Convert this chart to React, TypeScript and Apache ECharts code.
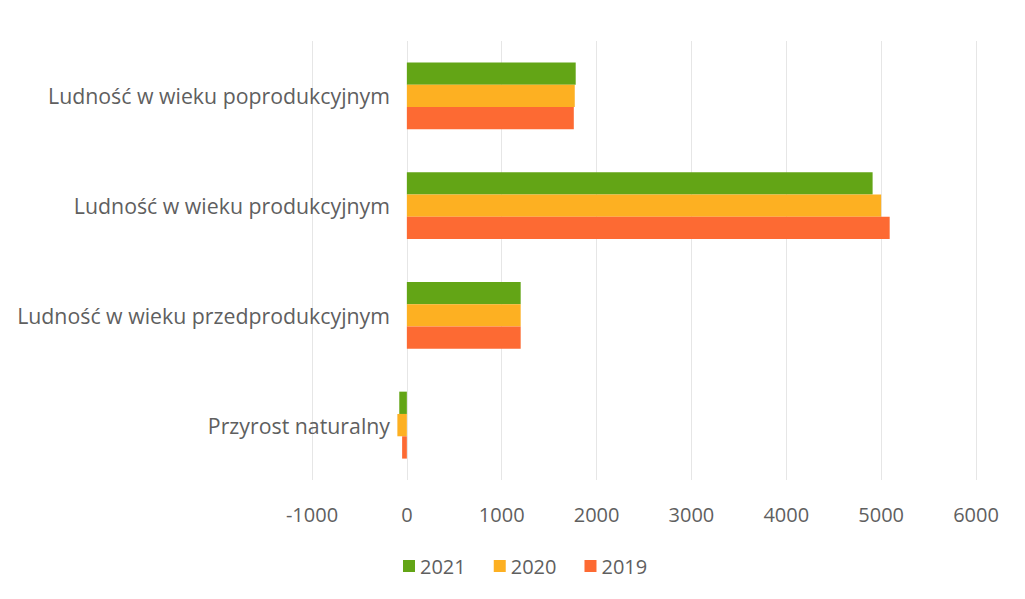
import React, { useEffect, useRef } from "react";
import * as echarts from "echarts";

const categories = [
  "Przyrost naturalny",
  "Ludność w wieku przedprodukcyjnym",
  "Ludność w wieku produkcyjnym",
  "Ludność w wieku poprodukcyjnym",
];
const years = ["2021", "2020", "2019"];
const values2021 = [-80, 1200, 4910, 1780];
const values2020 = [-100, 1200, 5000, 1770];
const values2019 = [-50, 1200, 5090, 1760];
const xTicks = [-1000, 0, 1000, 2000, 3000, 4000, 5000, 6000];

const colors: Record<string, string> = {
  "2021": "#63a516",
  "2020": "#fdb022",
  "2019": "#fd6a33",
};

export default function App() {
  const ref = useRef<HTMLDivElement>(null);
  useEffect(() => {
    if (!ref.current) return;
    const chart = echarts.init(ref.current, undefined, { renderer: "svg" });
    const font = "'Open Sans', sans-serif";
    const mk = (name: string, data: number[]) => ({
      name,
      type: "bar",
      data,
      itemStyle: { color: colors[name] },
      barGap: "0%",
      barCategoryGap: "39%",
    });
    chart.setOption({
      animation: false,
      backgroundColor: "#ffffff",
      grid: { left: 312, right: 49, top: 41, bottom: 119, containLabel: false },
      legend: {
        data: years,
        bottom: 18,
        left: 398,
        itemWidth: 12,
        itemHeight: 12,
        itemGap: 28,
        icon: "rect",
        textStyle: { color: "#5f5f5f", fontSize: 20, fontFamily: font },
      },
      xAxis: {
        type: "value",
        min: xTicks[0],
        max: xTicks[xTicks.length - 1],
        interval: 1000,
        axisLine: { show: false },
        axisTick: { show: false },
        splitLine: { show: true, lineStyle: { color: "#e6e6e6", width: 1 } },
        axisLabel: {
          color: "#5f5f5f",
          fontSize: 20,
          fontFamily: font,
          margin: 24,
          formatter: (v: number) => String(v),
        },
      },
      yAxis: {
        type: "category",
        data: categories,
        axisLine: { show: false },
        axisTick: { show: false },
        axisLabel: { color: "#5f5f5f", fontSize: 21.3, fontFamily: font, margin: -78 },
      },
      series: [mk("2021", values2021), mk("2020", values2020), mk("2019", values2019)],
    });
    return () => chart.dispose();
  }, []);
  return (
    <div
      ref={ref}
      style={{ position: "fixed", left: 0, top: 0, width: 1025, height: 599, background: "#fff" }}
    />
  );
}
